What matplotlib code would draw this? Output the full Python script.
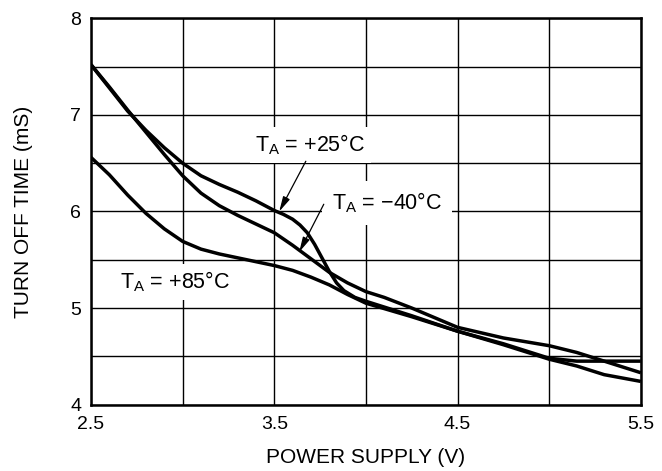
import matplotlib
matplotlib.use('Agg')
import matplotlib.pyplot as plt
from matplotlib.ticker import MultipleLocator

plt.rcParams['font.family'] = ['Liberation Sans', 'DejaVu Sans']
plt.rcParams['mathtext.default'] = 'regular'

# turn-off time (ms) vs supply voltage (V), one curve per ambient temperature
v_m40 = [2.5, 2.6, 2.7, 2.8, 2.9, 3.0, 3.1, 3.2, 3.3, 3.4, 3.5, 3.6, 3.7, 3.8,
         3.9, 4.0, 4.1, 4.25, 4.5, 4.75, 5.0, 5.15, 5.3, 5.4, 5.5]
t_m40 = [7.52, 7.29, 7.05, 6.82, 6.59, 6.37, 6.19, 6.06, 5.96, 5.87, 5.78, 5.65,
         5.51, 5.37, 5.26, 5.17, 5.11, 5.00, 4.80, 4.69, 4.61, 4.54, 4.45, 4.39, 4.33]

v_p25 = [2.5, 2.6, 2.7, 2.8, 2.9, 3.0, 3.1, 3.2, 3.3, 3.4, 3.5, 3.55, 3.6, 3.64,
         3.68, 3.72, 3.76, 3.8, 3.84, 3.88, 3.94, 4.0, 4.25, 4.5, 4.75, 5.0,
         5.15, 5.3, 5.5]
t_p25 = [7.52, 7.28, 7.04, 6.84, 6.66, 6.50, 6.37, 6.28, 6.20, 6.11, 6.01, 5.97,
         5.92, 5.86, 5.78, 5.66, 5.52, 5.38, 5.26, 5.18, 5.11, 5.07, 4.92, 4.76,
         4.62, 4.47, 4.40, 4.31, 4.24]

v_p85 = [2.5, 2.6, 2.7, 2.8, 2.9, 3.0, 3.1, 3.2, 3.3, 3.4, 3.5, 3.6, 3.7, 3.8,
         3.9, 4.0, 4.25, 4.5, 4.75, 5.0, 5.1, 5.15, 5.5]
t_p85 = [6.56, 6.38, 6.17, 5.98, 5.82, 5.69, 5.61, 5.56, 5.52, 5.48, 5.44, 5.39,
         5.32, 5.24, 5.14, 5.05, 4.91, 4.76, 4.63, 4.48, 4.46, 4.45, 4.45]

x_ticks = [2.5, 3.5, 4.5, 5.5]
y_ticks = [4, 5, 6, 7, 8]

fig = plt.figure(figsize=(6.62, 4.71), dpi=100)
ax = fig.add_axes([0.1375, 0.141, 0.8305, 0.820])

for v, t in [(v_m40, t_m40), (v_p25, t_p25), (v_p85, t_p85)]:
    ax.plot(v, t, color='black', lw=2.5, solid_joinstyle='round',
            solid_capstyle='butt', zorder=3)

ax.set_xlim(2.5, 5.5)
ax.set_ylim(4, 8)
ax.set_xticks(x_ticks)
ax.set_yticks(y_ticks)
ax.xaxis.set_minor_locator(MultipleLocator(0.5))
ax.yaxis.set_minor_locator(MultipleLocator(0.5))
ax.grid(which='both', color='black', lw=1.0, zorder=1)
ax.tick_params(which='both', length=0, labelsize=14)
ax.tick_params(axis='x', pad=8)
ax.tick_params(axis='y', pad=7)
for s in ax.spines.values():
    s.set_linewidth(1.8)

ax.set_xlabel('POWER SUPPLY (V)', fontsize=15, labelpad=11)
ax.set_ylabel('TURN OFF TIME (mS)', fontsize=15, labelpad=27)

box = dict(facecolor='white', edgecolor='none', boxstyle='square,pad=0.25')
arrow = dict(arrowstyle='-|>,head_length=0.9,head_width=0.22', color='black',
             lw=0.9, shrinkA=0, shrinkB=0)

ax.text(3.697, 6.69, 'T$_A$ = +25°C', fontsize=15.5, ha='center', va='center',
        bbox=box, zorder=4)
ax.annotate('', xy=(3.527, 6.0), xytext=(3.672, 6.52), arrowprops=arrow, zorder=5)

ax.text(4.115, 6.09, 'T$_A$ = \u221240°C', fontsize=15.5, ha='center', va='center',
        bbox=dict(facecolor='white', edgecolor='none', boxstyle='square,pad=0.45'),
        zorder=4)
ax.annotate('', xy=(3.636, 5.58), xytext=(3.77, 6.075), arrowprops=arrow, zorder=5)

ax.text(2.96, 5.27, 'T$_A$ = +85°C', fontsize=15.5, ha='center', va='center',
        bbox=box, zorder=4)

fig.savefig('out.png', dpi=100)
